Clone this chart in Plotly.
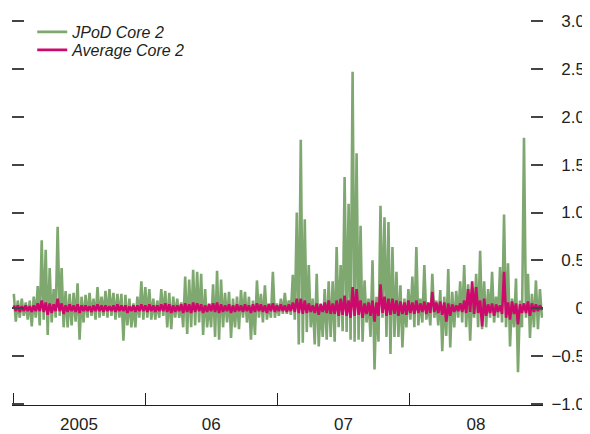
import pandas as pd
import plotly.graph_objects as go

# Envelope readings (upper / lower swing) of each daily series, in chronological bins
jpod_hi = [0.15, 0.08, 0.10, 0.06, 0.08, 0.12, 0.23, 0.71, 0.61, 0.42,
           0.20, 0.85, 0.42, 0.18, 0.15, 0.16, 0.26, 0.12, 0.14, 0.16,
           0.10, 0.22, 0.12, 0.18, 0.20, 0.16, 0.15, 0.15, 0.14, 0.10,
           0.05, 0.12, 0.28, 0.22, 0.20, 0.10, 0.08, 0.20, 0.18, 0.16,
           0.12, 0.10, 0.06, 0.33, 0.30, 0.40, 0.38, 0.36, 0.20, 0.05,
           0.25, 0.39, 0.30, 0.16, 0.17, 0.10, 0.12, 0.19, 0.17, 0.12,
           0.08, 0.29, 0.15, 0.24, 0.05, 0.38, 0.05, 0.10, 0.16, 0.08,
           0.35, 1.00, 1.76, 0.93, 0.45, 0.10, 0.36, 0.05, 0.20, 0.28,
           0.28, 0.64, 0.45, 1.37, 1.09, 2.47, 1.62, 0.86, 0.29, 0.10,
           0.50, 0.12, 1.07, 0.95, 0.90, 0.64, 0.38, 0.24, 0.10, 0.20,
           0.33, 0.64, 0.10, 0.45, 0.05, 0.36, 0.08, 0.19, 0.12, 0.41,
           0.17, 0.18, 0.28, 0.45, 0.25, 0.20, 0.36, 0.60, 0.28, 0.20,
           0.38, 0.12, 0.43, 0.98, 0.47, 0.10, 0.31, 0.08, 1.78, 0.36,
           0.15, 0.29, 0.20]
jpod_lo = [-0.14, -0.10, -0.08, -0.12, -0.19, -0.10, -0.18, -0.12, -0.28, -0.15,
           -0.10, -0.08, -0.20, -0.20, -0.18, -0.14, -0.33, -0.15, -0.10, -0.08,
           -0.12, -0.10, -0.08, -0.10, -0.08, -0.12, -0.10, -0.34, -0.18, -0.20,
           -0.20, -0.10, -0.12, -0.10, -0.12, -0.12, -0.10, -0.08, -0.20, -0.22,
           -0.10, -0.10, -0.20, -0.27, -0.20, -0.18, -0.15, -0.28, -0.20, -0.20,
           -0.30, -0.33, -0.20, -0.15, -0.31, -0.20, -0.22, -0.10, -0.15, -0.33,
           -0.28, -0.10, -0.15, -0.12, -0.10, -0.10, -0.08, -0.06, -0.06, -0.07,
           -0.12, -0.38, -0.36, -0.25, -0.20, -0.38, -0.40, -0.30, -0.33, -0.30,
           -0.35, -0.20, -0.24, -0.25, -0.33, -0.35, -0.33, -0.35, -0.15, -0.30,
           -0.64, -0.35, -0.10, -0.30, -0.48, -0.30, -0.30, -0.41, -0.20, -0.12,
           -0.20, -0.18, -0.15, -0.12, -0.18, -0.10, -0.18, -0.45, -0.29, -0.41,
           -0.20, -0.10, -0.15, -0.20, -0.34, -0.10, -0.20, -0.22, -0.20, -0.10,
           -0.15, -0.10, -0.15, -0.20, -0.40, -0.20, -0.67, -0.20, -0.10, -0.31,
           -0.20, -0.22, -0.10]
avg_hi = [0.03, 0.03, 0.02, 0.03, 0.02, 0.03, 0.05, 0.08, 0.06, 0.05,
          0.04, 0.10, 0.05, 0.03, 0.04, 0.03, 0.04, 0.03, 0.03, 0.02,
          0.03, 0.04, 0.03, 0.03, 0.02, 0.03, 0.04, 0.03, 0.03, 0.02,
          0.03, 0.03, 0.04, 0.03, 0.04, 0.03, 0.03, 0.04, 0.05, 0.04,
          0.03, 0.03, 0.04, 0.05, 0.04, 0.06, 0.05, 0.04, 0.03, 0.04,
          0.05, 0.06, 0.04, 0.03, 0.04, 0.03, 0.04, 0.03, 0.04, 0.03,
          0.04, 0.05, 0.04, 0.03, 0.04, 0.05, 0.03, 0.04, 0.03, 0.04,
          0.06, 0.10, 0.10, 0.08, 0.05, 0.03, 0.05, 0.04, 0.06, 0.08,
          0.05, 0.08, 0.10, 0.13, 0.08, 0.22, 0.20, 0.08, 0.05, 0.06,
          0.08, 0.06, 0.25, 0.12, 0.10, 0.10, 0.08, 0.07, 0.06, 0.08,
          0.06, 0.08, 0.05, 0.07, 0.06, 0.17, 0.06, 0.07, 0.06, 0.05,
          0.04, 0.03, 0.05, 0.08, 0.20, 0.28, 0.22, 0.08, 0.10, 0.04,
          0.05, 0.04, 0.03, 0.38, 0.06, 0.07, 0.05, 0.04, 0.05, 0.07,
          0.05, 0.04, 0.03]
avg_lo = [-0.03, -0.04, -0.03, -0.03, -0.04, -0.03, -0.03, -0.04, -0.07, -0.05,
          -0.03, -0.03, -0.06, -0.04, -0.03, -0.04, -0.05, -0.03, -0.03, -0.04,
          -0.03, -0.03, -0.04, -0.03, -0.03, -0.04, -0.03, -0.03, -0.05, -0.03,
          -0.04, -0.03, -0.03, -0.04, -0.03, -0.04, -0.03, -0.03, -0.04, -0.05,
          -0.04, -0.03, -0.05, -0.04, -0.05, -0.04, -0.03, -0.05, -0.04, -0.03,
          -0.04, -0.05, -0.04, -0.03, -0.05, -0.04, -0.03, -0.04, -0.03, -0.05,
          -0.04, -0.03, -0.04, -0.05, -0.03, -0.04, -0.03, -0.03, -0.04, -0.03,
          -0.04, -0.05, -0.06, -0.05, -0.04, -0.05, -0.07, -0.04, -0.05, -0.06,
          -0.06, -0.08, -0.07, -0.08, -0.10, -0.08, -0.07, -0.10, -0.06, -0.08,
          -0.14, -0.08, -0.05, -0.08, -0.07, -0.06, -0.08, -0.06, -0.07, -0.05,
          -0.06, -0.05, -0.04, -0.06, -0.05, -0.04, -0.05, -0.07, -0.14, -0.08,
          -0.04, -0.03, -0.04, -0.05, -0.04, -0.06, -0.05, -0.19, -0.08, -0.05,
          -0.08, -0.04, -0.06, -0.10, -0.12, -0.06, -0.17, -0.05, -0.05, -0.08,
          -0.04, -0.03, -0.02]

year_bounds = ["2005-01-01", "2006-01-01", "2007-01-01", "2008-01-01", "2009-01-01"]
year_mids = ["2005-07-02", "2006-07-02", "2007-07-02", "2008-07-02"]
year_labels = ["2005", "06", "07", "08"]
y_ticks = [3.0, 2.5, 2.0, 1.5, 1.0, 0.5, 0.0, -0.5, -1.0]
y_labels = ["3.0", "2.5", "2.0", "1.5", "1.0", "0.5", "0", "\u22120.5", "\u22121.0"]

# Daily dates, the series alternate between their upper and lower swing
dates = pd.date_range("2005-01-03", "2008-12-31", periods=2 * len(jpod_hi))
jpod = [v for pair in zip(jpod_hi, jpod_lo) for v in pair]
avg = [v for pair in zip(avg_hi, avg_lo) for v in pair]

GREEN = "#7fa870"
MAGENTA = "#cc0a6c"
INK = "#231f20"
FONT = "Liberation Sans, Arial, sans-serif"
X_RANGE = ["2004-12-29", "2009-01-03"]
Y_RANGE = [-1.012, 3.012]

fig = go.Figure()
fig.add_trace(go.Scatter(x=dates, y=jpod, mode="lines", name="JPoD Core 2",
                         line=dict(color=GREEN, width=2.6), legend="legend"))
fig.add_trace(go.Scatter(x=dates, y=avg, mode="lines", name="Average Core 2",
                         line=dict(color=MAGENTA, width=2.6), legend="legend2"))
# empty helper trace so the label axes are drawn
fig.add_trace(go.Scatter(x=[], y=[], xaxis="x2", yaxis="y3", showlegend=False,
                         hoverinfo="skip"))

# page body has an 8px margin: figure is 582x426 placed at (8, 8)
dom_r = 531 / 578
legend_font = dict(family=FONT, size=16, style="italic", color=INK)
fig.update_layout(
    width=582, height=426,
    margin=dict(l=4, r=0, t=12, b=29, autoexpand=False),
    paper_bgcolor="white", plot_bgcolor="white",
    font=dict(family=FONT, size=17, color=INK),
    xaxis=dict(domain=[0, dom_r], range=X_RANGE, type="date", automargin=False,
               tickvals=year_bounds, ticks="inside", ticklen=12, tickwidth=1,
               tickcolor=INK, showticklabels=False, showline=True,
               linecolor=INK, linewidth=1, showgrid=False, zeroline=False),
    xaxis2=dict(overlaying="x", anchor="y", range=X_RANGE, type="date", automargin=False,
                tickvals=year_mids, ticktext=year_labels, ticks="", showline=False,
                showgrid=False, zeroline=False, side="bottom", ticklabelstandoff=7,
                tickfont=dict(family=FONT, size=17, color=INK)),
    yaxis=dict(range=Y_RANGE, tickvals=y_ticks, showgrid=False, zeroline=False,
               automargin=False, side="left", ticks="inside", ticklen=12, tickwidth=1.5,
               tickcolor="#444", showticklabels=False, showline=False, mirror="ticks"),
    yaxis3=dict(range=Y_RANGE, tickvals=y_ticks, ticktext=y_labels, showgrid=False,
                zeroline=False, automargin=False, overlaying="y", anchor="free",
                position=1, side="left", ticks="", showticklabels=True, showline=False,
                ticklabelstandoff=5,
                tickfont=dict(family=FONT, size=17, color=INK)),
    legend=dict(x=0.035, y=(405 - 32) / 385, xanchor="left", yanchor="middle",
                bgcolor="rgba(0,0,0,0)", font=legend_font, itemwidth=30),
    legend2=dict(x=0.035, y=(405 - 50) / 385, xanchor="left", yanchor="middle",
                 bgcolor="rgba(0,0,0,0)", font=legend_font, itemwidth=30),
    showlegend=True,
)
fig.write_html("out.html")
